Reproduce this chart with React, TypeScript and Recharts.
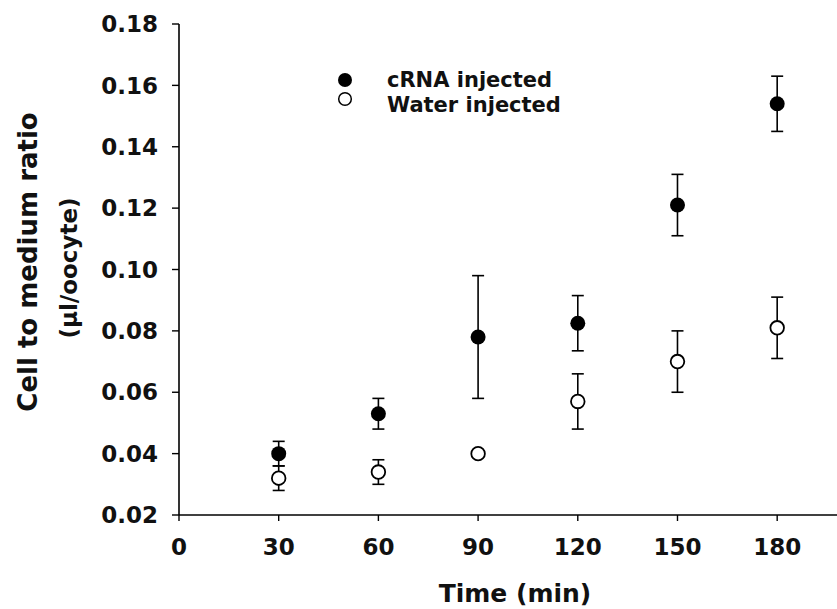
import { ErrorBar, Legend, Scatter, ScatterChart, XAxis, YAxis } from "recharts";

const FONT = "'DejaVu Sans', sans-serif";
const INK = "#111";

// minutes after injection
const times = [30, 60, 90, 120, 150, 180];
// cell to medium ratio (µl/oocyte), mean and SEM
const crnaMeans = [0.04, 0.053, 0.078, 0.0825, 0.121, 0.154];
const crnaErr = [0.004, 0.005, 0.02, 0.009, 0.01, 0.009];
const waterMeans = [0.032, 0.034, 0.04, 0.057, 0.07, 0.081];
const waterErr = [0.004, 0.004, 0, 0.009, 0.01, 0.01];

const xTicks = [0, 30, 60, 90, 120, 150, 180];
const yTicks = [0.02, 0.04, 0.06, 0.08, 0.1, 0.12, 0.14, 0.16, 0.18];

const seriesNames = ["cRNA injected", "Water injected"];

const crnaData = times.map((t, i) => ({ t, v: crnaMeans[i], e: crnaErr[i] }));
const waterData = times.map((t, i) => ({ t, v: waterMeans[i], e: waterErr[i] }));

const tickStyle = { fill: INK, fontSize: 23, fontWeight: 700, fontFamily: FONT };

function FilledDot({ cx, cy }: { cx?: number; cy?: number }) {
  return <circle cx={cx} cy={cy} r={7.5} fill="#000" />;
}

function OpenDot({ cx, cy }: { cx?: number; cy?: number }) {
  return <circle cx={cx} cy={cy} r={6.8} fill="#fff" stroke="#000" strokeWidth={1.8} />;
}

function YTitle() {
  return (
    <g fontFamily={FONT} fontWeight={700} fill={INK} textAnchor="middle">
      <text x={37} y={262} fontSize={26} transform="rotate(-90 37 262)">
        Cell to medium ratio
      </text>
      <text x={77} y={268} fontSize={23} transform="rotate(-90 77 268)">
        (µl/oocyte)
      </text>
    </g>
  );
}

function XTitle() {
  return (
    <text x={515} y={602} textAnchor="middle" fontFamily={FONT} fontWeight={700} fontSize={25} fill={INK}>
      Time (min)
    </text>
  );
}

function LegendBox() {
  return (
    <svg width={260} height={60} style={{ display: "block" }}>
      <circle cx={25} cy={20} r={7} fill="#000" />
      <circle cx={25} cy={39} r={6.3} fill="#fff" stroke="#000" strokeWidth={1.5} />
      <g fontFamily={FONT} fontWeight={700} fontSize={21} fill={INK}>
        <text x={67} y={27}>{seriesNames[0]}</text>
        <text x={67} y={52}>{seriesNames[1]}</text>
      </g>
    </svg>
  );
}

export default function App() {
  return (
    <div style={{ position: "absolute", left: 0, top: 0, width: 837, height: 609, background: "#fff" }}>
      <ScatterChart width={837} height={609} margin={{ top: 24, right: 0, bottom: 0, left: 0 }}>
        <XAxis
          type="number"
          dataKey="t"
          domain={[0, 198]}
          ticks={xTicks}
          allowDataOverflow
          height={94}
          tickSize={6}
          tickMargin={18}
          tick={tickStyle}
          axisLine={{ stroke: "#000", strokeWidth: 1.6 }}
          tickLine={{ stroke: "#000", strokeWidth: 1.4 }}
          label={XTitle}
        />
        <YAxis
          type="number"
          dataKey="v"
          domain={[0.02, 0.18]}
          ticks={yTicks}
          allowDataOverflow
          width={179}
          tickSize={7}
          tickMargin={14}
          tick={tickStyle}
          tickFormatter={(v: number) => v.toFixed(2)}
          axisLine={{ stroke: "#000", strokeWidth: 1.6 }}
          tickLine={{ stroke: "#000", strokeWidth: 1.4 }}
          label={YTitle}
        />
        <Legend
          layout="vertical"
          align="center"
          verticalAlign="middle"
          wrapperStyle={{ left: 320, top: 60, width: 260, height: 60 }}
          content={() => <LegendBox />}
        />
        <Scatter name={seriesNames[0]} data={crnaData} shape={FilledDot} isAnimationActive={false}>
          <ErrorBar dataKey="e" direction="y" width={6} stroke="#000" strokeWidth={1.6} isAnimationActive={false} />
        </Scatter>
        <Scatter name={seriesNames[1]} data={waterData} shape={OpenDot} isAnimationActive={false}>
          <ErrorBar dataKey="e" direction="y" width={6} stroke="#000" strokeWidth={1.6} isAnimationActive={false} />
        </Scatter>
      </ScatterChart>
    </div>
  );
}
